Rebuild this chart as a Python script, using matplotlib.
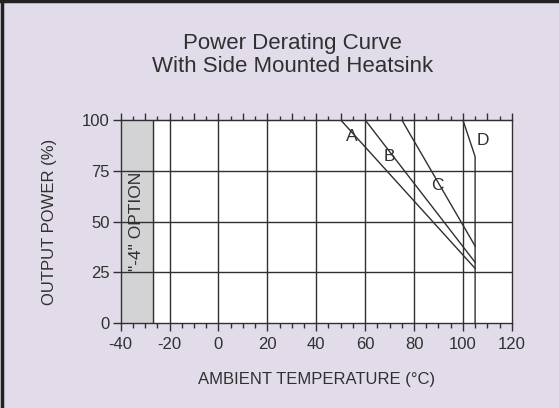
import matplotlib
matplotlib.use("Agg")
from matplotlib import pyplot as plt
from matplotlib.ticker import MultipleLocator
from matplotlib.lines import Line2D

plt.rcParams['font.family'] = ['Liberation Sans', 'DejaVu Sans']
plt.rcParams['axes.unicode_minus'] = False

# curve data (temperature degC, output power %)
a_temp = [50, 105]
a_power = [100, 27]
b_temp = [60, 105]
b_power = [100, 30]
c_temp = [75, 105]
c_power = [100, 38]
d_temp = [100, 105, 105]
d_power = [100, 82, 0]

labels = ['A', 'B', 'C', 'D']
label_pos = [(54.5, 92), (70, 82), (89.5, 68), (108, 90)]

option_range = (-40, -27)
x_grid = [-20, 0, 20, 40, 60, 80, 100]
y_grid = [25, 50, 75]

bg = '#e2dcea'
ink = '#303030'
fs = 12

fig = plt.figure(figsize=(5.59, 4.08), dpi=100, facecolor=bg)
ax = fig.add_axes([0.216, 0.2075, 0.6995, 0.4985])
ax.set_facecolor('white')

# "-4" option shaded band
ax.axvspan(option_range[0], option_range[1], color='#d3d3d5', zorder=1)
ax.axvline(option_range[1], color=ink, lw=1.0, zorder=2)

for gx in x_grid:
    ax.axvline(gx, color=ink, lw=1.0, zorder=2)
for gy in y_grid:
    ax.axhline(gy, color=ink, lw=1.0, zorder=2)

for xs, ys in [(a_temp, a_power), (b_temp, b_power), (c_temp, c_power), (d_temp, d_power)]:
    ax.plot(xs, ys, color=ink, lw=1.0, zorder=3)

for lab, (tx, ty) in zip(labels, label_pos):
    ax.text(tx, ty, lab, fontsize=12.5, color=ink, ha='center', va='center', zorder=4)

ax.text(-33.5, 50, '"-4" OPTION', rotation=90, fontsize=12.5, color=ink,
        ha='center', va='center', zorder=4)

ax.set_xlim(-40, 120)
ax.set_ylim(0, 100)
ax.xaxis.set_major_locator(MultipleLocator(20))
ax.xaxis.set_minor_locator(MultipleLocator(5))
ax.yaxis.set_major_locator(MultipleLocator(25))
ax.tick_params(axis='x', which='major', direction='out', length=6, width=1, color=ink,
               labelsize=fs, labelcolor=ink, pad=4)
ax.tick_params(axis='x', which='minor', direction='out', length=3.5, width=1, color=ink)
ax.tick_params(axis='y', which='major', direction='out', length=6, width=1, color=ink,
               labelsize=fs, labelcolor=ink, pad=2)

top = ax.secondary_xaxis('top')
top.xaxis.set_major_locator(MultipleLocator(10))
top.xaxis.set_minor_locator(MultipleLocator(5))
top.tick_params(which='major', direction='out', length=5, width=1, color=ink, labeltop=False)
top.tick_params(which='minor', direction='out', length=3, width=1, color=ink)
top.spines['top'].set_color(ink)

for s in ax.spines.values():
    s.set_color(ink)
    s.set_linewidth(1.0)

ax.set_xlabel('AMBIENT TEMPERATURE (°C)', fontsize=fs, color=ink, labelpad=14)
ax.set_ylabel('OUTPUT POWER (%)', fontsize=fs, color=ink, labelpad=18)

fig.text(0.523, 0.865, 'Power Derating Curve\nWith Side Mounted Heatsink', ha='center',
         va='center', fontsize=16, color=ink, linespacing=1.08)

# outer frame of the figure (left and top edges)
fig.add_artist(Line2D([0.003, 0.003], [0, 0.997], transform=fig.transFigure, color='#222222', lw=2.5))
fig.add_artist(Line2D([0, 1], [0.997, 0.997], transform=fig.transFigure, color='#222222', lw=2.5))

fig.savefig('out.png', dpi=100, facecolor=bg)
